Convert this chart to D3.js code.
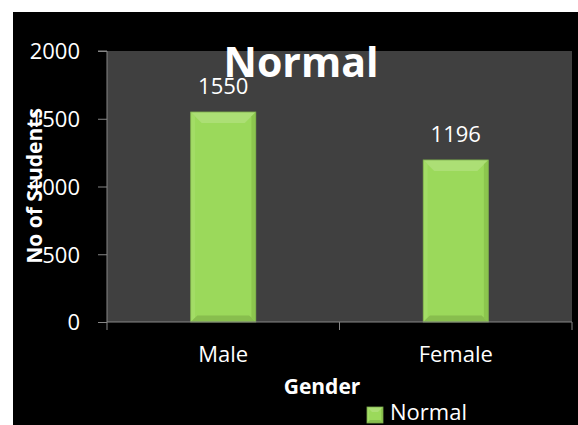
<html>
<script src="https://d3js.org/d3.v7.min.js"></script>
<style>
    body {margin: 0; background: white;}
    text {font-family: "Open Sans", sans-serif; fill: white;}
</style>
<body>
<svg width=578 height=425></svg>
<script>
// chart data
const genders = ["Male", "Female"];
const students = [1550, 1196];
const yTicks = [0, 500, 1000, 1500, 2000];
const seriesName = "Normal";

const svg = d3.select("svg");

// black chart area
svg.append("rect")
    .attr("x", 13).attr("y", 12)
    .attr("width", 565).attr("height", 413)
    .attr("fill", "black");

const plotL = 107, plotR = 572, plotT = 51, plotB = 322;

const xs = d3.scaleBand().domain(genders).range([plotL, plotR]);
const ys = d3.scaleLinear().domain([0, 2000]).range([plotB, plotT]);

// grey plot area
svg.append("rect")
    .attr("x", plotL).attr("y", plotT)
    .attr("width", plotR - plotL).attr("height", plotB - plotT)
    .attr("fill", "#404040");

// bevelled bars
function bevelBar(g, x, y, w, h, b) {
    g.append("rect").attr("x", x).attr("y", y).attr("width", w).attr("height", h).attr("fill", "#9bd95b");
    // top
    g.append("polygon").attr("points", [[x, y], [x + w, y], [x + w - b, y + b], [x + b, y + b]].join(" "))
        .attr("fill", "#acdf75");
    // left
    g.append("polygon").attr("points", [[x, y], [x + b * 0.4, y + b * 0.4], [x + b * 0.4, y + h - b * 0.4], [x, y + h]].join(" "))
        .attr("fill", "#a3dd66");
    // right
    g.append("polygon").attr("points", [[x + w, y], [x + w - b * 0.4, y + b * 0.4], [x + w - b * 0.4, y + h - b * 0.4], [x + w, y + h]].join(" "))
        .attr("fill", "#8cc64e");
    // bottom
    g.append("polygon").attr("points", [[x, y + h], [x + w, y + h], [x + w - b * 0.6, y + h - b * 0.6], [x + b * 0.6, y + h - b * 0.6]].join(" "))
        .attr("fill", "#88be4e");
    g.append("rect").attr("x", x).attr("y", y).attr("width", w).attr("height", h)
        .attr("fill", "none").attr("stroke", "#7aa84a").attr("stroke-width", 0.8);
}

const barW = xs.bandwidth() * 0.28;
const bars = svg.append("g");
genders.forEach(function(d, i) {
    const cx = xs(d) + xs.bandwidth() / 2;
    bevelBar(bars, cx - barW / 2, ys(students[i]), barW, plotB - ys(students[i]), 11);
    svg.append("text")
        .attr("x", cx).attr("y", ys(students[i]) - 18)
        .attr("text-anchor", "middle")
        .style("font-size", "22px")
        .text(students[i]);
});

// y axis
const yAxis = svg.append("g").attr("transform", "translate(" + plotL + ",0)")
    .call(d3.axisLeft(ys).tickValues(yTicks).tickSize(9).tickPadding(18).tickFormat(d3.format("d")));
yAxis.select(".domain").attr("stroke", "#868686").attr("d", "M-9," + plotT + "H0V" + plotB);
yAxis.selectAll("line").attr("stroke", "#868686");
yAxis.selectAll("text").attr("fill", "white").style("font-size", "22px")
    .style("font-family", "'Open Sans', sans-serif").attr("dy", "0.36em");

// x axis
const xAxis = svg.append("g").attr("transform", "translate(0," + plotB + ")")
    .call(d3.axisBottom(xs).tickSize(0).tickPadding(24));
xAxis.select(".domain").attr("stroke", "#868686").attr("d", "M" + plotL + ",8V0H" + plotR + "V8");
xAxis.selectAll(".tick line").remove();
xAxis.selectAll("text").attr("fill", "white").style("font-size", "22px")
    .style("font-family", "'Open Sans', sans-serif");
xAxis.append("line")
    .attr("x1", xs("Female")).attr("x2", xs("Female"))
    .attr("y1", 0).attr("y2", 8).attr("stroke", "#868686");

// title
svg.append("text")
    .attr("x", 301).attr("y", 77)
    .attr("text-anchor", "middle")
    .style("font-size", "41px").style("font-weight", "bold")
    .text("Normal");

// axis titles
svg.append("text")
    .attr("transform", "translate(42,186) rotate(-90)")
    .attr("text-anchor", "middle")
    .style("font-size", "21px").style("font-weight", "bold")
    .text("No of Students");

svg.append("text")
    .attr("x", 322).attr("y", 394)
    .attr("text-anchor", "middle")
    .style("font-size", "21px").style("font-weight", "bold")
    .text("Gender");

// legend
const legend = svg.append("g");
bevelBar(legend, 367, 407, 16, 16, 5);
legend.append("text")
    .attr("x", 390).attr("y", 420)
    .style("font-size", "22px")
    .text(seriesName);
</script>
</body>
</html>
